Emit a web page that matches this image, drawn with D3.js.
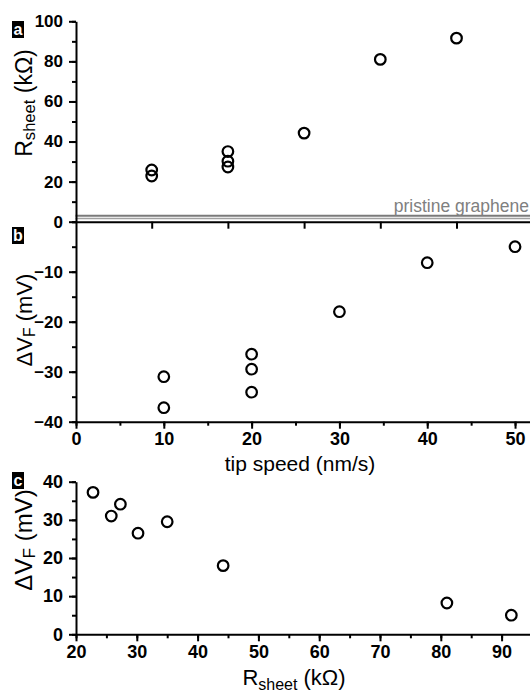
<!DOCTYPE html>
<html>
<head>
<meta charset="utf-8">
<script src="https://cdn.jsdelivr.net/npm/d3@7"></script>
<style>
  body { margin: 0; background: #fff; }
  svg { font-family: "Liberation Sans", Arial, sans-serif; }
  .axis path, .axis line { stroke: #000; stroke-width: 2; }
  .axis text { font-weight: bold; fill: #000; }
</style>
</head>
<body>
<svg id="chart"></svg>
<script>
// panel a: sheet resistance vs tip speed
const speedA = [10, 10, 20, 20, 20, 30, 40, 50];
const rSheet = [25.8, 22.8, 35.0, 30.2, 27.3, 44.2, 81.0, 91.6];
const pristineBand = [1.6, 3.0];

// panel b: work function shift vs tip speed
const speedB = [10, 10, 20, 20, 20, 30, 40, 50];
const dVF = [-31.0, -37.2, -26.5, -29.5, -34.1, -18.0, -8.2, -5.0];

// panel c: |dVF| vs sheet resistance
const rSheetC = [22.8, 25.8, 27.3, 30.2, 35.0, 44.2, 81.0, 91.6];
const dVFc = [37.2, 31.0, 34.1, 26.5, 29.5, 18.0, 8.2, 5.0];

const yTicksA = [0, 20, 40, 60, 80, 100];
const yTicksB = [-40, -30, -20, -10];
const xTicksB = [0, 10, 20, 30, 40, 50];
const yTicksC = [0, 10, 20, 30, 40];
const xTicksC = [20, 30, 40, 50, 60, 70, 80, 90];

const W = 530, H = 694;
const svg = d3.select('#chart').attr('width', W).attr('height', H);

// scales
const xA = d3.scaleLinear().domain([0, 60]).range([75.5, 532.7]);
const yA = d3.scaleLinear().domain([0, 100]).range([221.7, 21.3]);
const xB = d3.scaleLinear().domain([0, 52]).range([76, 532.6]);
const yB = d3.scaleLinear().domain([-40, 0]).range([421.7, 221.7]);
const xC = d3.scaleLinear().domain([20, 95]).range([76, 532]);
const yC = d3.scaleLinear().domain([0, 40]).range([634.3, 481.7]);

function minor(domain, step) {
  const out = [];
  for (let v = domain[0]; v <= domain[1] + 1e-9; v += step) out.push(+v.toFixed(6));
  return out;
}

function leftAxis(y, major, minorStep, fontSize) {
  const g = svg.append('g').attr('class', 'axis').attr('transform', 'translate(76,0)');
  g.append('g').call(d3.axisLeft(y).tickValues(minor(y.domain(), minorStep)).tickSize(4).tickFormat(''))
    .select('.domain').remove();
  g.append('g').call(d3.axisLeft(y).tickValues(major).tickSize(7).tickSizeOuter(0).tickPadding(6))
    .selectAll('text').style('font-size', fontSize + 'px');
}

function bottomAxis(x, yPos, major, minorStep, fontSize, labels) {
  const g = svg.append('g').attr('class', 'axis').attr('transform', `translate(0,${yPos})`);
  if (minorStep) {
    g.append('g').call(d3.axisBottom(x).tickValues(minor(x.domain(), minorStep)).tickSize(4).tickFormat(''))
      .select('.domain').remove();
  }
  const ax = d3.axisBottom(x).tickValues(major).tickSize(7).tickSizeOuter(0).tickPadding(4);
  if (!labels) ax.tickFormat('');
  g.append('g').call(ax).selectAll('text').style('font-size', fontSize + 'px');
}

// panel a
pristineBand.forEach((v, i) => {
  svg.append('line')
    .attr('x1', xA(0)).attr('x2', W)
    .attr('y1', yA(v)).attr('y2', yA(v))
    .attr('stroke', i ? '#7a7a7a' : '#a0a0a0')
    .attr('stroke-width', i ? 2 : 1.5);
});
svg.append('text').attr('x', 529).attr('y', 211.5)
  .attr('text-anchor', 'end')
  .style('font-size', '17.5px').attr('fill', '#808080')
  .text('pristine graphene');

leftAxis(yA, yTicksA, 10, 17);
bottomAxis(xA, yA(0), [10, 20, 30, 40, 50], null, 16, false);

// panel b
leftAxis(yB, yTicksB, 5, 17);
bottomAxis(xB, yB(-40), xTicksB, 5, 18, true);

// panel c
leftAxis(yC, yTicksC, 5, 18);
bottomAxis(xC, yC(0), xTicksC, 5, 18, true);

// markers
function dots(xs, ys, x, y) {
  svg.append('g').selectAll('circle')
    .data(xs.map((d, i) => [d, ys[i]]))
    .join('circle')
    .attr('cx', d => x(d[0]))
    .attr('cy', d => y(d[1]))
    .attr('r', 5.3)
    .attr('fill', 'none')
    .attr('stroke', '#000')
    .attr('stroke-width', 2.2);
}
dots(speedA, rSheet, xA, yA);
dots(speedB, dVF, xB, yB);
dots(rSheetC, dVFc, xC, yC);

// axis titles
function yTitle(cy, main, sub, rest, size) {
  const t = svg.append('text')
    .attr('transform', `translate(32,${cy}) rotate(-90)`)
    .attr('text-anchor', 'middle')
    .style('font-size', size + 'px');
  t.append('tspan').text(main);
  t.append('tspan').attr('dy', 3).style('font-size', (size * 0.72) + 'px').text(sub);
  t.append('tspan').attr('dy', -3).text(rest);
}
yTitle(103, 'R', 'sheet', ' (k\u03a9)', 23);
yTitle(320, '\u0394V', 'F', ' (mV)', 22);
yTitle(540, '\u0394V', 'F', ' (mV)', 24);

svg.append('text').attr('x', 300).attr('y', 471)
  .attr('text-anchor', 'middle').style('font-size', '21px')
  .text('tip speed (nm/s)');

const xt = svg.append('text').attr('x', 294).attr('y', 685)
  .attr('text-anchor', 'middle').style('font-size', '22px');
xt.append('tspan').text('R');
xt.append('tspan').attr('dy', 5).style('font-size', '16px').text('sheet');
xt.append('tspan').attr('dy', -5).text(' (k\u03a9)');

// panel letters
const panels = [['a', 21], ['b', 227], ['c', 472]];
panels.forEach(([p, top]) => {
  svg.append('rect').attr('x', 12).attr('y', top).attr('width', 12).attr('height', 17).attr('fill', '#000');
  svg.append('text').attr('x', 18).attr('y', top + 13.5)
    .attr('text-anchor', 'middle').attr('fill', '#fff')
    .style('font-size', '16px').style('font-weight', 'bold').text(p);
});
</script>
</body>
</html>
